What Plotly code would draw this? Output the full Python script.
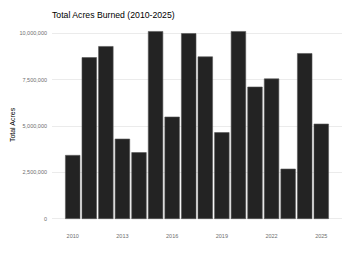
import plotly.graph_objects as go

years = list(range(2010, 2026))
acres = [3420000, 8700000, 9300000, 4300000, 3570000, 10110000, 5490000, 10000000,
         8740000, 4650000, 10110000, 7110000, 7550000, 2680000, 8920000, 5110000]
y_ticks = [0, 2500000, 5000000, 7500000, 10000000]
y_labels = ["0", "2,500,000", "5,000,000", "7,500,000", "10,000,000"]
x_ticks = [2010, 2013, 2016, 2019, 2022, 2025]

fig = go.Figure(go.Bar(
    x=years, y=acres, width=0.88,
    marker=dict(color="#232323", line=dict(color="#555555", width=0.6)),
))

fig.update_layout(
    width=350, height=253,
    margin=dict(l=52, r=8, t=22, b=25),
    paper_bgcolor="white", plot_bgcolor="white",
    showlegend=False,
    font=dict(family="Liberation Sans, Arial, sans-serif"),
    title=dict(text="Total Acres Burned (2010-2025)", x=52/350, xanchor="left",
               y=1-14.5/253, yanchor="middle",
               font=dict(size=8.7, color="black")),
    xaxis=dict(range=[2008.75, 2026.25], tickvals=x_ticks, ticktext=[str(v) for v in x_ticks],
               showgrid=False, zeroline=False, showline=False, ticks="",
               ticklabelstandoff=3,
               tickfont=dict(size=5.5, color="#6e6e6e")),
    yaxis=dict(range=[-505000, 10620000], tickvals=y_ticks, ticktext=y_labels,
               showgrid=True, gridcolor="#ebebeb", gridwidth=0.8, zeroline=False,
               showline=False, ticks="", ticklabelstandoff=4,
               tickfont=dict(size=5.5, color="#6e6e6e"),
               title=dict(text="Total Acres", font=dict(size=7, color="black"), standoff=3)),
)

fig.write_html("out.html")
